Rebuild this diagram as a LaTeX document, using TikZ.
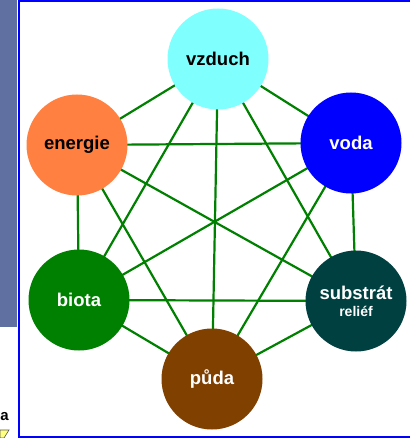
\documentclass[tikz,border=0pt]{standalone}
\usepackage{fontspec}
\setmainfont{Liberation Sans}
\definecolor{strip}{RGB}{96,112,160}
\definecolor{cAir}{RGB}{128,255,255}
\definecolor{cEnergy}{RGB}{255,128,64}
\definecolor{cWater}{RGB}{0,0,255}
\definecolor{cBiota}{RGB}{0,128,0}
\definecolor{cSub}{RGB}{0,64,64}
\definecolor{cSoil}{RGB}{128,64,0}
\definecolor{edgegreen}{RGB}{0,128,0}
\definecolor{tri}{RGB}{255,255,128}
\begin{document}
\begin{tikzpicture}[x=1pt,y=-1pt,
  ball/.style={circle,minimum size=101pt,inner sep=0pt,font=\bfseries\fontsize{18.5}{20}\selectfont,align=center},
  link/.style={draw=edgegreen,line width=2.2pt}]
\useasboundingbox (0,0) rectangle (409,438);
\fill[white] (0,0) rectangle (409,438);
\fill[strip] (0,0) rectangle (17,327);
\draw[blue,line width=2pt] (18.5,1) rectangle (414,436.5);
\node[anchor=base east,font=\bfseries\fontsize{15}{17}\selectfont,inner sep=0pt] (lbla) at (9,420) {a};
\filldraw[fill=tri,draw=gray!70!black,line width=0.6pt] (0,430) -- (9,430) -- (4,438) -- (0,438) -- cycle;
\coordinate (pA) at (218,59);
\coordinate (pE) at (77,145);
\coordinate (pW) at (351,143);
\coordinate (pB) at (79,300);
\coordinate (pS) at (356,301);
\coordinate (pP) at (212,379);
\foreach \a/\b in {A/E,A/W,A/B,A/S,A/P,E/W,E/B,E/S,E/P,W/B,W/S,W/P,B/S,B/P,S/P}
  \draw[link] (p\a) -- (p\b);
\node[ball,fill=cAir,text=black] (air) at (pA) {vzduch};
\node[ball,fill=cEnergy,text=black] (energy) at (pE) {energie};
\node[ball,fill=cWater,text=white] (water) at (pW) {voda};
\node[ball,fill=cBiota,text=white] (biota) at (pB) {biota};
\node[ball,fill=cSub,text=white] (sub) at (pS) {substrát\\[-3pt]{\fontsize{14}{16}\selectfont reliéf}};
\node[ball,fill=cSoil,text=white] (soil) at (pP) {půda};
\end{tikzpicture}
\end{document}
